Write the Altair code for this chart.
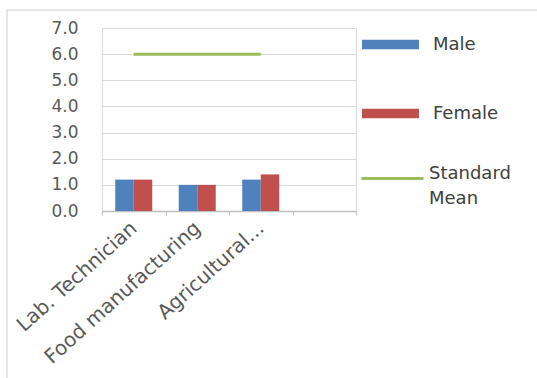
import altair as alt
import pandas as pd

categories = ["Lab. Technician", "Food manufacturing", "Agricultural...", "(blank)"]
genders = ["Male", "Female"]
male = [1.2, 1.0, 1.2]
female = [1.2, 1.0, 1.4]
standard_mean = [6.0, 6.0, 6.0]
y_ticks = [0, 1, 2, 3, 4, 5, 6, 7]

rows = []
for i, c in enumerate(categories[:3]):
    rows.append({"cat": c, "gender": "Male", "value": male[i]})
    rows.append({"cat": c, "gender": "Female", "value": female[i]})
bars_df = pd.DataFrame(rows)
mean_df = pd.DataFrame({"cat": categories[:3], "series": ["Standard Mean"] * 3, "value": standard_mean})

FONT = "DejaVu Sans"
LABEL = "#595959"

xscale = alt.Scale(domain=categories, paddingInner=0, paddingOuter=0)
yscale = alt.Scale(domain=[0, 7], nice=False)

xaxis = alt.Axis(
    title=None, labelAngle=318, labelAlign="right", labelBaseline="middle",
    labelPadding=10, labelFontSize=20, labelFont=FONT, labelColor=LABEL,
    labelExpr="datum.label == '(blank)' ? '' : datum.label",
    tickBand="extent", tickSize=4, tickColor="#bfbfbf",
    domainColor="#bfbfbf", domainWidth=1.5, grid=False, labelOverlap=False,
    labelBound=False, labelFlush=False, labelLimit=0,
)
yaxis = alt.Axis(
    title=None, values=y_ticks, format=".1f", grid=True, gridColor="#d9d9d9",
    domain=False, ticks=False, labelPadding=24, labelFontSize=17,
    labelFont=FONT, labelColor=LABEL,
)

bars = alt.Chart(bars_df).mark_bar().encode(
    x=alt.X("cat:N", scale=xscale, axis=xaxis, sort=categories),
    xOffset=alt.XOffset("gender:N", scale=alt.Scale(domain=genders, paddingInner=0, paddingOuter=0.716), sort=genders),
    y=alt.Y("value:Q", scale=yscale, axis=yaxis),
    fill=alt.Fill(
        "gender:N",
        scale=alt.Scale(domain=genders, range=["#4F81BD", "#C0504D"]),
        legend=alt.Legend(
            title=None, orient="none", legendX=260, legendY=-12,
            symbolType="M-1,-0.17L1,-0.17L1,0.17L-1,0.17Z", symbolSize=3249,
            symbolStrokeWidth=0, labelFontSize=18, labelFont=FONT, labelColor="#404040",
            labelOffset=14, rowPadding=31,
        ),
    ),
)

line = alt.Chart(mean_df).mark_line(strokeWidth=3).encode(
    x=alt.X("cat:N", scale=xscale, axis=xaxis, sort=categories),
    y=alt.Y("value:Q", scale=yscale, axis=yaxis),
    stroke=alt.Stroke(
        "series:N",
        scale=alt.Scale(domain=["Standard Mean"], range=["#9BBB59"]),
        legend=alt.Legend(
            title=None, orient="none", legendX=258, legendY=118,
            symbolType="stroke", symbolSize=3844, symbolStrokeWidth=3,
            labelFontSize=18, labelFont=FONT, labelColor="#404040",
            labelOffset=4, labelBaseline="alphabetic",
            labelExpr="['Standard', 'Mean']",
        ),
    ),
)

frame = alt.Chart(pd.DataFrame({"a": [0]})).mark_rect(
    fillOpacity=0, stroke="#d0d0d0", strokeWidth=1
).encode(x=alt.value(-95), x2=alt.value(440), y=alt.value(-18), y2=alt.value(362))

chart = alt.layer(frame, bars, line).resolve_scale(fill="independent", stroke="independent").properties(
    width=254, height=183,
    autosize=alt.AutoSizeParams(type="none"),
    padding={"left": 102, "top": 28, "right": 181, "bottom": 167},
    background="white",
).configure_view(stroke=None).configure(style={"guide-label": {"lineHeight": 25}})

chart.save("out.html", embed_options={"renderer": "svg", "actions": False})
